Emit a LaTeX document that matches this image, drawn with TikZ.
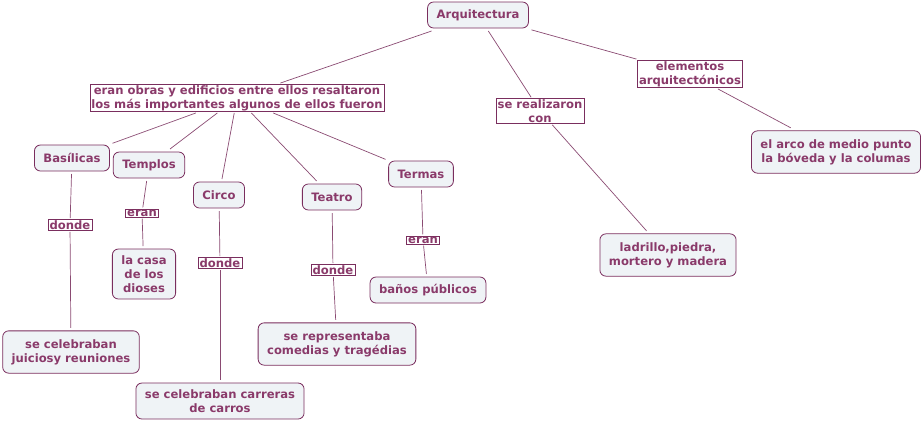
\documentclass[tikz,border=0pt]{standalone}
\usepackage{fontspec}
\setmainfont{DejaVu Sans}
\definecolor{txt}{HTML}{8A3A6A}
\definecolor{bord}{HTML}{7A2E5E}
\definecolor{fil}{HTML}{EFF3F6}
\definecolor{lin}{HTML}{8A4A72}
\begin{document}
\begin{tikzpicture}[x=1pt,y=-1pt,
  every node/.style={font=\fontsize{11.6}{14}\selectfont\bfseries, text=txt, align=center},
  concept/.style={draw=bord, fill=fil, rounded corners=6pt, line width=0.8pt, inner xsep=9pt, inner ysep=6.5pt, minimum height=26pt, outer sep=3pt},
  tallc/.style={concept, inner ysep=8.5pt},
  linkp/.style={draw=bord, fill=white, line width=0.6pt, inner xsep=1.5pt, inner ysep=0.8pt, outer sep=1.5pt},
  conn/.style={draw=lin, line width=0.7pt}]
\useasboundingbox (0,0) rectangle (923,424);
\node[concept] (arq) at (478,15) {Arquitectura};
\node[linkp] (eran) at (237,98) {eran obras y edificios entre ellos resaltaron\\los más importantes algunos de ellos fueron};
\node[linkp] (ser) at (540,111) {se realizaron\\con};
\node[linkp] (elem) at (690,74) {elementos\\arquitectónicos};
\node[tallc] (arco) at (836,152) {el arco de medio punto\\la bóveda y la columas};
\node[tallc] (lad) at (668,255) {ladrillo,piedra,\\mortero y madera};
\node[concept] (bas) at (72,158) {Basílicas};
\node[concept] (tem) at (149,165) {Templos};
\node[concept] (cir) at (219,195) {Circo};
\node[concept] (tea) at (332,197) {Teatro};
\node[concept] (ter) at (421,174) {Termas};
\node[linkp] (d1) at (70,225) {donde};
\node[linkp] (e1) at (142,213) {eran};
\node[concept] (casa) at (144,274) {la casa\\de los\\dioses};
\node[linkp] (d2) at (220,263) {donde};
\node[concept] (carr) at (220,401) {se celebraban carreras\\de carros};
\node[linkp] (d3) at (333,270) {donde};
\node[tallc] (rep) at (337,344) {se representaba\\comedias y tragédias};
\node[linkp] (e2) at (423,240) {eran};
\node[concept] (ban) at (428,290) {baños públicos};
\node[tallc] (jui) at (71,352) {se celebraban\\juiciosy reuniones};
\draw[conn] (arq) -- (eran);
\draw[conn] (arq) -- (ser);
\draw[conn] (arq) -- (elem);
\draw[conn] (elem) -- (arco);
\draw[conn] (ser) -- (lad);
\draw[conn] (eran) -- (bas);
\draw[conn] (eran) -- (tem);
\draw[conn] (eran) -- (cir);
\draw[conn] (eran) -- (tea);
\draw[conn] (eran) -- (ter);
\draw[conn] (bas) -- (d1);
\draw[conn] (d1) -- (jui);
\draw[conn] (tem) -- (e1);
\draw[conn] (e1) -- (casa);
\draw[conn] (cir) -- (d2);
\draw[conn] (d2) -- (carr);
\draw[conn] (tea) -- (d3);
\draw[conn] (d3) -- (rep);
\draw[conn] (ter) -- (e2);
\draw[conn] (e2) -- (ban);
\end{tikzpicture}
\end{document}
